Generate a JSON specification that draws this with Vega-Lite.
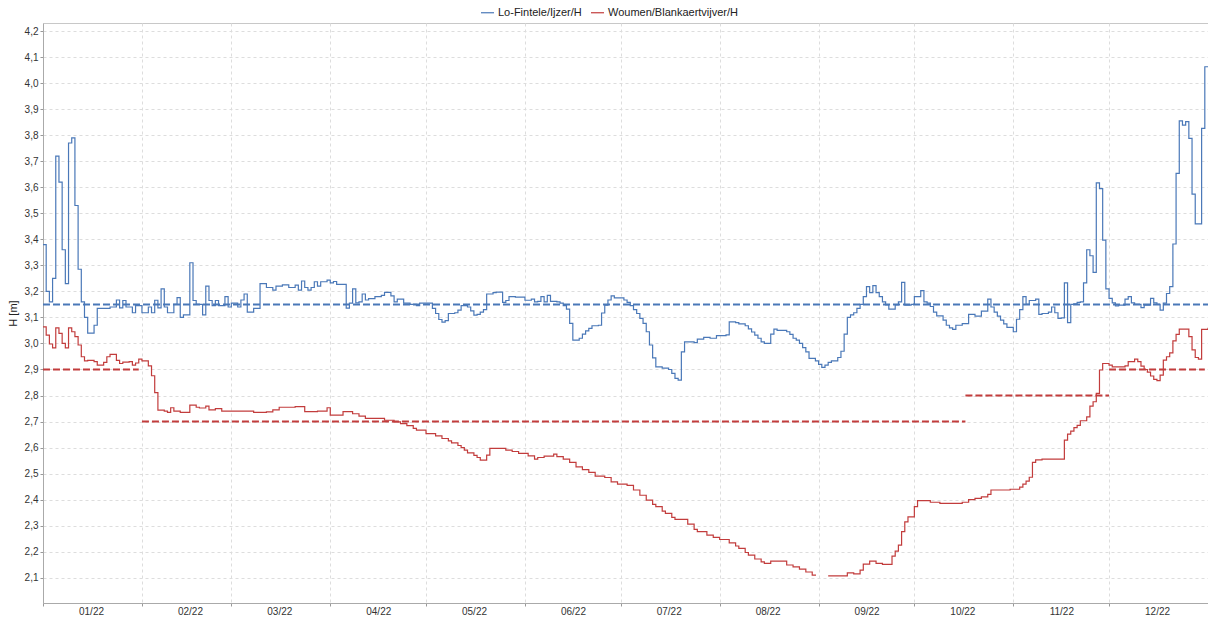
{
"$schema": "https://vega.github.io/schema/vega-lite/v6.json",
"width": 1165, "height": 580,
"autosize": "none",
"padding": {"left": 43, "top": 23, "right": 0, "bottom": 14},
"background": "white",
"config": {"font": "Liberation Sans", "view": {"stroke": "#c8c8c8"}},
"datasets": {
"ref": [
{"s": "Lo-Fintele/Ijzer/H", "d": "2022-01-01", "d2": "2023-01-01", "h": 3.15},
{"s": "Woumen/Blankaertvijver/H", "d": "2022-01-01", "d2": "2022-01-31", "h": 2.9},
{"s": "Woumen/Blankaertvijver/H", "d": "2022-02-01", "d2": "2022-10-17", "h": 2.7},
{"s": "Woumen/Blankaertvijver/H", "d": "2022-10-17", "d2": "2022-12-01", "h": 2.8},
{"s": "Woumen/Blankaertvijver/H", "d": "2022-12-01", "d2": "2022-12-31", "h": 2.9}
],
"lo": [
{"d":"2022-01-01","h":3.38},{"d":"2022-01-02","h":3.20},{"d":"2022-01-03","h":3.16},{"d":"2022-01-04","h":3.25},{"d":"2022-01-05","h":3.72},{"d":"2022-01-06","h":3.62},{"d":"2022-01-07","h":3.36},{"d":"2022-01-08","h":3.23},{"d":"2022-01-09","h":3.77},{"d":"2022-01-10","h":3.79},{"d":"2022-01-11","h":3.53},{"d":"2022-01-12","h":3.285},{"d":"2022-01-13","h":3.16},{"d":"2022-01-14","h":3.10},{"d":"2022-01-15","h":3.04},{"d":"2022-01-17","h":3.07},{"d":"2022-01-18","h":3.135},{"d":"2022-01-22","h":3.14},{"d":"2022-01-24","h":3.167},{"d":"2022-01-25","h":3.137},{"d":"2022-01-26","h":3.165},{"d":"2022-01-27","h":3.14},{"d":"2022-01-29","h":3.118},{"d":"2022-01-30","h":3.145},
{"d":"2022-02-01","h":3.118},{"d":"2022-02-03","h":3.14},{"d":"2022-02-04","h":3.118},{"d":"2022-02-05","h":3.166},{"d":"2022-02-06","h":3.137},{"d":"2022-02-07","h":3.21},{"d":"2022-02-08","h":3.14},{"d":"2022-02-09","h":3.118},{"d":"2022-02-11","h":3.15},{"d":"2022-02-12","h":3.176},{"d":"2022-02-13","h":3.10},{"d":"2022-02-14","h":3.11},{"d":"2022-02-16","h":3.31},{"d":"2022-02-17","h":3.165},{"d":"2022-02-18","h":3.15},{"d":"2022-02-20","h":3.11},{"d":"2022-02-21","h":3.22},{"d":"2022-02-22","h":3.165},{"d":"2022-02-23","h":3.145},{"d":"2022-02-24","h":3.165},{"d":"2022-02-25","h":3.145},{"d":"2022-02-27","h":3.18},{"d":"2022-02-28","h":3.14},
{"d":"2022-03-01","h":3.155},{"d":"2022-03-03","h":3.14},{"d":"2022-03-04","h":3.167},{"d":"2022-03-05","h":3.19},{"d":"2022-03-06","h":3.12},{"d":"2022-03-08","h":3.135},{"d":"2022-03-10","h":3.23},{"d":"2022-03-12","h":3.215},{"d":"2022-03-14","h":3.205},{"d":"2022-03-15","h":3.22},{"d":"2022-03-17","h":3.225},{"d":"2022-03-19","h":3.215},{"d":"2022-03-21","h":3.224},{"d":"2022-03-22","h":3.205},{"d":"2022-03-23","h":3.24},{"d":"2022-03-24","h":3.215},{"d":"2022-03-25","h":3.205},{"d":"2022-03-26","h":3.215},{"d":"2022-03-27","h":3.237},{"d":"2022-03-28","h":3.22},{"d":"2022-03-29","h":3.237},{"d":"2022-03-31","h":3.243},
{"d":"2022-04-01","h":3.233},{"d":"2022-04-02","h":3.238},{"d":"2022-04-03","h":3.227},{"d":"2022-04-06","h":3.136},{"d":"2022-04-07","h":3.155},{"d":"2022-04-08","h":3.21},{"d":"2022-04-09","h":3.156},{"d":"2022-04-10","h":3.16},{"d":"2022-04-11","h":3.19},{"d":"2022-04-12","h":3.167},{"d":"2022-04-13","h":3.172},{"d":"2022-04-15","h":3.18},{"d":"2022-04-17","h":3.185},{"d":"2022-04-18","h":3.196},{"d":"2022-04-20","h":3.183},{"d":"2022-04-21","h":3.16},{"d":"2022-04-22","h":3.17},{"d":"2022-04-24","h":3.155},{"d":"2022-04-26","h":3.15},{"d":"2022-04-28","h":3.145},{"d":"2022-04-29","h":3.155},
{"d":"2022-05-03","h":3.135},{"d":"2022-05-04","h":3.115},{"d":"2022-05-05","h":3.092},{"d":"2022-05-06","h":3.082},{"d":"2022-05-07","h":3.088},{"d":"2022-05-08","h":3.115},{"d":"2022-05-10","h":3.118},{"d":"2022-05-11","h":3.128},{"d":"2022-05-12","h":3.145},{"d":"2022-05-14","h":3.14},{"d":"2022-05-15","h":3.125},{"d":"2022-05-16","h":3.109},{"d":"2022-05-17","h":3.112},{"d":"2022-05-18","h":3.12},{"d":"2022-05-19","h":3.13},{"d":"2022-05-20","h":3.19},{"d":"2022-05-22","h":3.195},{"d":"2022-05-23","h":3.197},{"d":"2022-05-25","h":3.158},{"d":"2022-05-26","h":3.165},{"d":"2022-05-27","h":3.18},{"d":"2022-05-29","h":3.178},
{"d":"2022-06-01","h":3.166},{"d":"2022-06-03","h":3.17},{"d":"2022-06-04","h":3.16},{"d":"2022-06-05","h":3.162},{"d":"2022-06-06","h":3.18},{"d":"2022-06-07","h":3.16},{"d":"2022-06-08","h":3.185},{"d":"2022-06-09","h":3.162},{"d":"2022-06-11","h":3.16},{"d":"2022-06-12","h":3.155},{"d":"2022-06-13","h":3.145},{"d":"2022-06-14","h":3.132},{"d":"2022-06-15","h":3.077},{"d":"2022-06-16","h":3.013},{"d":"2022-06-18","h":3.02},{"d":"2022-06-19","h":3.036},{"d":"2022-06-20","h":3.048},{"d":"2022-06-21","h":3.058},{"d":"2022-06-22","h":3.068},{"d":"2022-06-24","h":3.07},{"d":"2022-06-25","h":3.117},{"d":"2022-06-26","h":3.147},{"d":"2022-06-27","h":3.167},{"d":"2022-06-28","h":3.183},{"d":"2022-06-29","h":3.175},
{"d":"2022-07-02","h":3.167},{"d":"2022-07-03","h":3.158},{"d":"2022-07-04","h":3.145},{"d":"2022-07-05","h":3.13},{"d":"2022-07-06","h":3.115},{"d":"2022-07-07","h":3.096},{"d":"2022-07-08","h":3.077},{"d":"2022-07-09","h":3.045},{"d":"2022-07-10","h":2.994},{"d":"2022-07-11","h":2.945},{"d":"2022-07-12","h":2.91},{"d":"2022-07-14","h":2.905},{"d":"2022-07-16","h":2.90},{"d":"2022-07-17","h":2.885},{"d":"2022-07-18","h":2.866},{"d":"2022-07-19","h":2.859},{"d":"2022-07-20","h":2.968},{"d":"2022-07-21","h":3.006},{"d":"2022-07-24","h":3.003},{"d":"2022-07-25","h":3.017},{"d":"2022-07-27","h":3.023},{"d":"2022-07-29","h":3.02},{"d":"2022-07-31","h":3.03},
{"d":"2022-08-03","h":3.033},{"d":"2022-08-04","h":3.083},{"d":"2022-08-06","h":3.08},{"d":"2022-08-07","h":3.075},{"d":"2022-08-09","h":3.068},{"d":"2022-08-10","h":3.056},{"d":"2022-08-11","h":3.044},{"d":"2022-08-12","h":3.032},{"d":"2022-08-13","h":3.02},{"d":"2022-08-14","h":3.006},{"d":"2022-08-15","h":3.0},{"d":"2022-08-17","h":3.036},{"d":"2022-08-18","h":3.055},{"d":"2022-08-19","h":3.05},{"d":"2022-08-22","h":3.045},{"d":"2022-08-23","h":3.035},{"d":"2022-08-24","h":3.02},{"d":"2022-08-25","h":3.013},{"d":"2022-08-26","h":3.0},{"d":"2022-08-27","h":2.984},{"d":"2022-08-28","h":2.968},{"d":"2022-08-29","h":2.943},{"d":"2022-08-31","h":2.933},
{"d":"2022-09-01","h":2.92},{"d":"2022-09-02","h":2.908},{"d":"2022-09-03","h":2.917},{"d":"2022-09-04","h":2.927},{"d":"2022-09-05","h":2.933},{"d":"2022-09-07","h":2.946},{"d":"2022-09-08","h":2.97},{"d":"2022-09-09","h":3.036},{"d":"2022-09-10","h":3.10},{"d":"2022-09-11","h":3.11},{"d":"2022-09-12","h":3.118},{"d":"2022-09-13","h":3.135},{"d":"2022-09-14","h":3.15},{"d":"2022-09-15","h":3.18},{"d":"2022-09-16","h":3.218},{"d":"2022-09-17","h":3.195},{"d":"2022-09-18","h":3.222},{"d":"2022-09-19","h":3.195},{"d":"2022-09-20","h":3.18},{"d":"2022-09-21","h":3.16},{"d":"2022-09-22","h":3.148},{"d":"2022-09-23","h":3.132},{"d":"2022-09-25","h":3.148},{"d":"2022-09-26","h":3.16},{"d":"2022-09-27","h":3.235},{"d":"2022-09-28","h":3.147},{"d":"2022-09-30","h":3.15},
{"d":"2022-10-01","h":3.18},{"d":"2022-10-03","h":3.203},{"d":"2022-10-04","h":3.16},{"d":"2022-10-05","h":3.155},{"d":"2022-10-06","h":3.142},{"d":"2022-10-07","h":3.12},{"d":"2022-10-08","h":3.106},{"d":"2022-10-10","h":3.09},{"d":"2022-10-11","h":3.07},{"d":"2022-10-12","h":3.06},{"d":"2022-10-13","h":3.054},{"d":"2022-10-14","h":3.07},{"d":"2022-10-16","h":3.076},{"d":"2022-10-18","h":3.112},{"d":"2022-10-20","h":3.105},{"d":"2022-10-22","h":3.124},{"d":"2022-10-24","h":3.17},{"d":"2022-10-25","h":3.14},{"d":"2022-10-26","h":3.12},{"d":"2022-10-27","h":3.105},{"d":"2022-10-28","h":3.09},{"d":"2022-10-29","h":3.075},{"d":"2022-10-30","h":3.062},
{"d":"2022-11-01","h":3.045},{"d":"2022-11-02","h":3.093},{"d":"2022-11-03","h":3.13},{"d":"2022-11-04","h":3.18},{"d":"2022-11-05","h":3.15},{"d":"2022-11-06","h":3.165},{"d":"2022-11-08","h":3.17},{"d":"2022-11-09","h":3.112},{"d":"2022-11-10","h":3.115},{"d":"2022-11-12","h":3.12},{"d":"2022-11-13","h":3.14},{"d":"2022-11-14","h":3.118},{"d":"2022-11-15","h":3.096},{"d":"2022-11-16","h":3.098},{"d":"2022-11-17","h":3.233},{"d":"2022-11-18","h":3.08},{"d":"2022-11-19","h":3.15},{"d":"2022-11-20","h":3.152},{"d":"2022-11-21","h":3.158},{"d":"2022-11-22","h":3.16},{"d":"2022-11-23","h":3.233},{"d":"2022-11-24","h":3.36},{"d":"2022-11-25","h":3.337},{"d":"2022-11-26","h":3.273},{"d":"2022-11-27","h":3.617},{"d":"2022-11-28","h":3.595},{"d":"2022-11-29","h":3.397},{"d":"2022-11-30","h":3.21},
{"d":"2022-12-01","h":3.173},{"d":"2022-12-02","h":3.156},{"d":"2022-12-03","h":3.144},{"d":"2022-12-04","h":3.147},{"d":"2022-12-06","h":3.17},{"d":"2022-12-07","h":3.18},{"d":"2022-12-08","h":3.156},{"d":"2022-12-09","h":3.15},{"d":"2022-12-11","h":3.138},{"d":"2022-12-12","h":3.147},{"d":"2022-12-14","h":3.173},{"d":"2022-12-15","h":3.156},{"d":"2022-12-16","h":3.15},{"d":"2022-12-17","h":3.128},{"d":"2022-12-18","h":3.155},{"d":"2022-12-19","h":3.192},{"d":"2022-12-20","h":3.218},{"d":"2022-12-21","h":3.382},{"d":"2022-12-22","h":3.653},{"d":"2022-12-23","h":3.855},{"d":"2022-12-24","h":3.839},{"d":"2022-12-25","h":3.852},{"d":"2022-12-26","h":3.788},{"d":"2022-12-27","h":3.574},{"d":"2022-12-28","h":3.459},{"d":"2022-12-30","h":3.826},{"d":"2022-12-31","h":4.063},{"d":"2023-01-01","h":4.063}
],
"wo1": [
{"d":"2022-01-01","h":3.064},{"d":"2022-01-02","h":3.032},{"d":"2022-01-03","h":2.998},{"d":"2022-01-04","h":2.983},{"d":"2022-01-05","h":3.06},{"d":"2022-01-06","h":3.039},{"d":"2022-01-07","h":3.0},{"d":"2022-01-08","h":2.983},{"d":"2022-01-09","h":3.06},{"d":"2022-01-10","h":3.045},{"d":"2022-01-11","h":3.026},{"d":"2022-01-12","h":2.994},{"d":"2022-01-13","h":2.949},{"d":"2022-01-14","h":2.933},{"d":"2022-01-15","h":2.935},{"d":"2022-01-17","h":2.93},{"d":"2022-01-18","h":2.917},{"d":"2022-01-20","h":2.927},{"d":"2022-01-21","h":2.949},{"d":"2022-01-22","h":2.958},{"d":"2022-01-24","h":2.935},{"d":"2022-01-25","h":2.923},{"d":"2022-01-26","h":2.928},{"d":"2022-01-28","h":2.93},{"d":"2022-01-29","h":2.917},{"d":"2022-01-30","h":2.925},{"d":"2022-01-31","h":2.94},
{"d":"2022-02-01","h":2.933},{"d":"2022-02-03","h":2.914},{"d":"2022-02-04","h":2.876},{"d":"2022-02-05","h":2.811},{"d":"2022-02-06","h":2.744},{"d":"2022-02-08","h":2.74},{"d":"2022-02-09","h":2.735},{"d":"2022-02-10","h":2.753},{"d":"2022-02-11","h":2.74},{"d":"2022-02-13","h":2.735},{"d":"2022-02-16","h":2.763},{"d":"2022-02-18","h":2.755},{"d":"2022-02-19","h":2.752},{"d":"2022-02-21","h":2.759},{"d":"2022-02-22","h":2.745},{"d":"2022-02-24","h":2.75},{"d":"2022-02-26","h":2.74},
{"d":"2022-03-08","h":2.735},{"d":"2022-03-12","h":2.737},{"d":"2022-03-14","h":2.745},{"d":"2022-03-16","h":2.755},{"d":"2022-03-21","h":2.757},{"d":"2022-03-24","h":2.738},{"d":"2022-03-28","h":2.74},{"d":"2022-03-31","h":2.753},
{"d":"2022-04-01","h":2.725},{"d":"2022-04-05","h":2.738},{"d":"2022-04-08","h":2.73},{"d":"2022-04-10","h":2.721},{"d":"2022-04-12","h":2.712},{"d":"2022-04-18","h":2.705},{"d":"2022-04-21","h":2.699},{"d":"2022-04-23","h":2.692},{"d":"2022-04-25","h":2.684},{"d":"2022-04-27","h":2.674},{"d":"2022-04-28","h":2.667},
{"d":"2022-05-01","h":2.654},{"d":"2022-05-04","h":2.645},{"d":"2022-05-06","h":2.635},{"d":"2022-05-08","h":2.626},{"d":"2022-05-09","h":2.618},{"d":"2022-05-11","h":2.608},{"d":"2022-05-12","h":2.60},{"d":"2022-05-13","h":2.59},{"d":"2022-05-14","h":2.58},{"d":"2022-05-16","h":2.57},{"d":"2022-05-17","h":2.562},{"d":"2022-05-18","h":2.552},{"d":"2022-05-20","h":2.571},{"d":"2022-05-21","h":2.597},{"d":"2022-05-26","h":2.59},{"d":"2022-05-28","h":2.585},{"d":"2022-05-30","h":2.578},
{"d":"2022-06-02","h":2.568},{"d":"2022-06-04","h":2.556},{"d":"2022-06-05","h":2.562},{"d":"2022-06-07","h":2.567},{"d":"2022-06-10","h":2.575},{"d":"2022-06-11","h":2.565},{"d":"2022-06-13","h":2.556},{"d":"2022-06-15","h":2.543},{"d":"2022-06-17","h":2.526},{"d":"2022-06-19","h":2.515},{"d":"2022-06-21","h":2.505},{"d":"2022-06-23","h":2.49},{"d":"2022-06-26","h":2.485},{"d":"2022-06-28","h":2.468},{"d":"2022-06-30","h":2.46},
{"d":"2022-07-03","h":2.455},{"d":"2022-07-05","h":2.437},{"d":"2022-07-07","h":2.417},{"d":"2022-07-09","h":2.398},{"d":"2022-07-11","h":2.382},{"d":"2022-07-12","h":2.373},{"d":"2022-07-14","h":2.356},{"d":"2022-07-15","h":2.347},{"d":"2022-07-17","h":2.332},{"d":"2022-07-18","h":2.324},{"d":"2022-07-22","h":2.306},{"d":"2022-07-24","h":2.286},{"d":"2022-07-25","h":2.277},{"d":"2022-07-28","h":2.264},{"d":"2022-07-30","h":2.255},
{"d":"2022-08-01","h":2.247},{"d":"2022-08-04","h":2.234},{"d":"2022-08-06","h":2.222},{"d":"2022-08-07","h":2.213},{"d":"2022-08-09","h":2.197},{"d":"2022-08-10","h":2.187},{"d":"2022-08-12","h":2.172},{"d":"2022-08-14","h":2.161},{"d":"2022-08-15","h":2.155},{"d":"2022-08-17","h":2.164},{"d":"2022-08-22","h":2.149},{"d":"2022-08-24","h":2.142},{"d":"2022-08-26","h":2.133},{"d":"2022-08-28","h":2.122},{"d":"2022-08-30","h":2.11},{"d":"2022-08-31","h":2.108}
],
"wo2": [
{"d":"2022-09-04","h":2.107},{"d":"2022-09-10","h":2.119},{"d":"2022-09-12","h":2.115},{"d":"2022-09-14","h":2.129},{"d":"2022-09-15","h":2.152},{"d":"2022-09-17","h":2.164},{"d":"2022-09-19","h":2.155},{"d":"2022-09-21","h":2.151},{"d":"2022-09-24","h":2.183},{"d":"2022-09-25","h":2.202},{"d":"2022-09-26","h":2.225},{"d":"2022-09-27","h":2.277},{"d":"2022-09-28","h":2.315},{"d":"2022-09-29","h":2.334},
{"d":"2022-10-01","h":2.373},{"d":"2022-10-02","h":2.396},{"d":"2022-10-06","h":2.39},{"d":"2022-10-09","h":2.386},{"d":"2022-10-16","h":2.39},{"d":"2022-10-18","h":2.40},{"d":"2022-10-20","h":2.405},{"d":"2022-10-22","h":2.411},{"d":"2022-10-24","h":2.42},{"d":"2022-10-25","h":2.437},{"d":"2022-10-31","h":2.44},
{"d":"2022-11-03","h":2.448},{"d":"2022-11-04","h":2.46},{"d":"2022-11-05","h":2.471},{"d":"2022-11-06","h":2.486},{"d":"2022-11-07","h":2.543},{"d":"2022-11-08","h":2.553},{"d":"2022-11-10","h":2.556},{"d":"2022-11-17","h":2.629},{"d":"2022-11-18","h":2.652},{"d":"2022-11-19","h":2.663},{"d":"2022-11-20","h":2.677},{"d":"2022-11-21","h":2.685},{"d":"2022-11-22","h":2.703},{"d":"2022-11-24","h":2.718},{"d":"2022-11-25","h":2.759},{"d":"2022-11-26","h":2.776},{"d":"2022-11-27","h":2.808},{"d":"2022-11-28","h":2.898},{"d":"2022-11-29","h":2.923},
{"d":"2022-12-01","h":2.917},{"d":"2022-12-02","h":2.91},{"d":"2022-12-06","h":2.914},{"d":"2022-12-07","h":2.93},{"d":"2022-12-09","h":2.94},{"d":"2022-12-10","h":2.93},{"d":"2022-12-11","h":2.913},{"d":"2022-12-12","h":2.90},{"d":"2022-12-13","h":2.89},{"d":"2022-12-14","h":2.875},{"d":"2022-12-15","h":2.862},{"d":"2022-12-16","h":2.857},{"d":"2022-12-17","h":2.878},{"d":"2022-12-18","h":2.936},{"d":"2022-12-19","h":2.949},{"d":"2022-12-20","h":2.964},{"d":"2022-12-21","h":3.01},{"d":"2022-12-22","h":3.035},{"d":"2022-12-23","h":3.055},{"d":"2022-12-26","h":3.026},{"d":"2022-12-27","h":2.975},{"d":"2022-12-28","h":2.946},{"d":"2022-12-29","h":2.94},{"d":"2022-12-30","h":3.054},{"d":"2023-01-01","h":3.06}
]
},
"encoding": {
"x": {"field": "d", "type": "temporal",
 "scale": {"type": "utc", "domain": [{"year": 2022, "month": 1, "date": 1, "utc": true}, {"year": 2023, "month": 1, "date": 1, "utc": true}]},
 "axis": {"title": null, "format": "%m/%y", "tickCount": {"interval": "month", "step": 1}, "labelExpr": "utcyear(datum.value) > 2022 ? '' : utcFormat(datum.value, '%m/%y')", "labelOffset": 48, "labelFlush": false, "labelOverlap": false, "labelBound": false, "grid": true, "gridDash": [3, 3], "gridColor": "#dddddd", "tickColor": "#999999", "tickSize": 3, "domainColor": "#aaaaaa", "labelFontSize": 10, "labelColor": "#333333", "labelPadding": 0, "labelFont": "Liberation Sans"}},
"y": {"field": "h", "type": "quantitative",
 "scale": {"domain": [2.003, 4.231], "nice": false, "zero": false},
 "axis": {"title": "H [m]", "values": [2.1, 2.2, 2.3, 2.4, 2.5, 2.6, 2.7, 2.8, 2.9, 3.0, 3.1, 3.2, 3.3, 3.4, 3.5, 3.6, 3.7, 3.8, 3.9, 4.0, 4.1, 4.2], "labelExpr": "replace(format(datum.value, '.1f'), '.', ',')", "grid": true, "gridDash": [3, 3], "gridColor": "#dddddd", "tickColor": "#999999", "tickSize": 3, "domainColor": "#aaaaaa", "labelFontSize": 10, "labelColor": "#333333", "labelFont": "Liberation Sans", "titleFontWeight": "normal", "titleFontSize": 11, "titleColor": "#222222", "titleFont": "Liberation Sans", "titlePadding": 6}}
},
"layer": [
{"data": {"name": "ref"}, "mark": {"type": "rule", "strokeDash": [7, 3], "strokeWidth": 2},
 "encoding": {"x2": {"field": "d2"},
  "color": {"field": "s", "type": "nominal",
   "scale": {"domain": ["Lo-Fintele/Ijzer/H", "Woumen/Blankaertvijver/H"], "range": ["#4a78b8", "#c23c3c"]},
   "legend": {"orient": "none", "legendX": 437, "legendY": -18, "direction": "horizontal", "title": null, "symbolType": "stroke", "symbolSize": 169, "symbolStrokeWidth": 1.2, "labelFontSize": 11, "labelColor": "#222222", "labelFont": "Liberation Sans", "columnPadding": 6, "labelOffset": 3}}}},
{"data": {"name": "lo"}, "mark": {"type": "line", "interpolate": "step-after", "strokeWidth": 1.2},
 "encoding": {"color": {"datum": "Lo-Fintele/Ijzer/H", "type": "nominal"}}},
{"data": {"name": "wo1"}, "mark": {"type": "line", "interpolate": "step-after", "strokeWidth": 1.2},
 "encoding": {"color": {"datum": "Woumen/Blankaertvijver/H", "type": "nominal"}}},
{"data": {"name": "wo2"}, "mark": {"type": "line", "interpolate": "step-after", "strokeWidth": 1.2},
 "encoding": {"color": {"datum": "Woumen/Blankaertvijver/H", "type": "nominal"}}}
]
}
